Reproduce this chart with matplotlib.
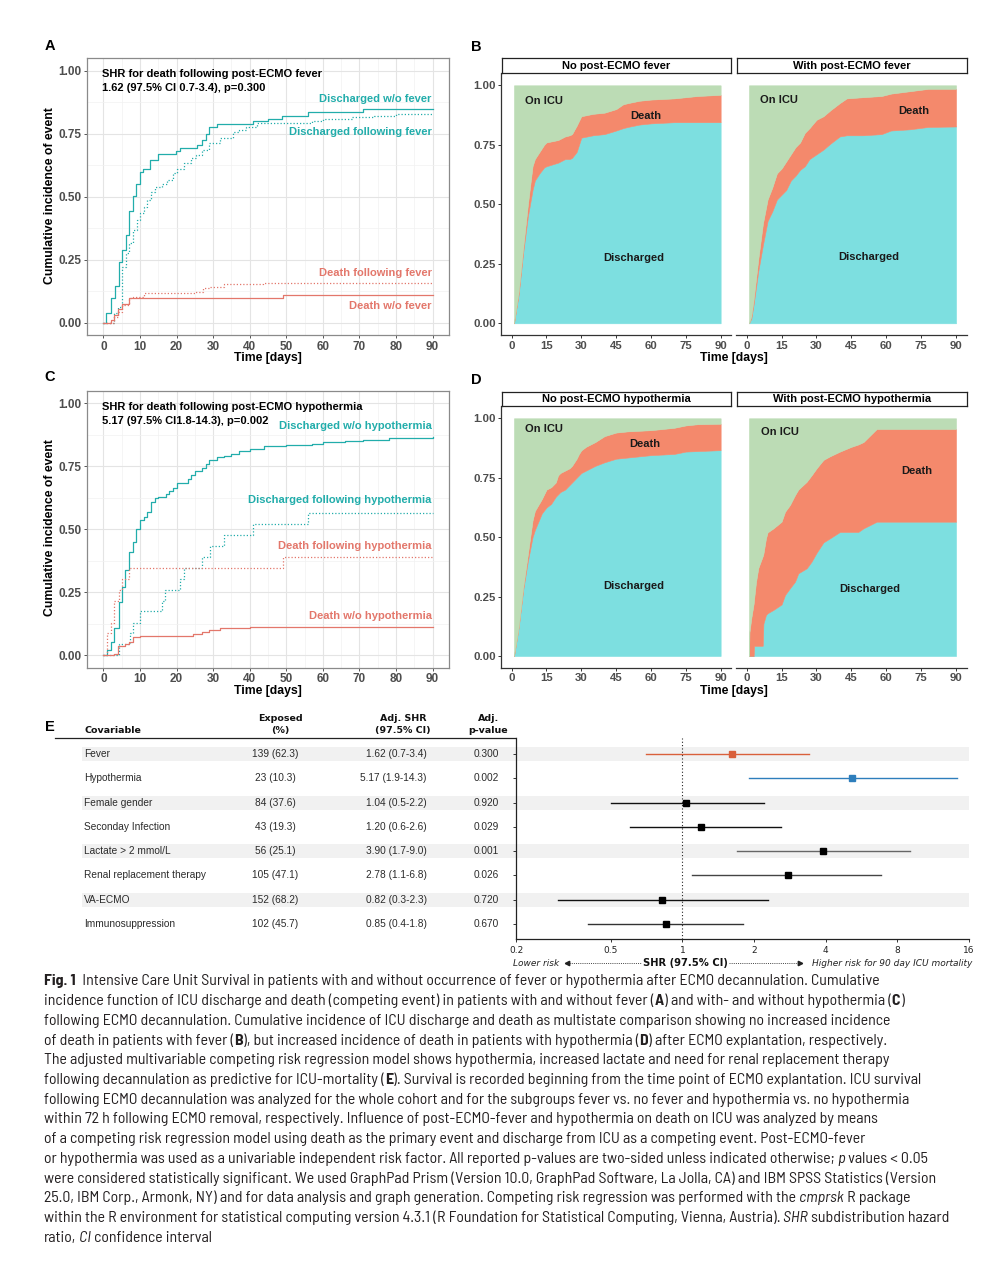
import matplotlib
matplotlib.use("Agg")
import matplotlib.pyplot as plt
from matplotlib import font_manager
from matplotlib.lines import Line2D
from matplotlib.text import Annotation
from matplotlib.patches import Rectangle
from matplotlib.ticker import MultipleLocator, NullLocator

plt.rcParams['font.family'] = ['Liberation Sans', 'DejaVu Sans']

# ---------------- data ----------------
# Panel A: cumulative incidence, fever
a_dis_nofev_t = [0, 0.7, 2, 3.2, 4.2, 5, 6.1, 7, 8, 9, 10, 10.9, 12.8, 15, 19.9, 20.9, 25.5, 27, 28, 29, 31, 41, 45, 48.9, 56, 71, 90]
a_dis_nofev_y = [0, 0.037, 0.097, 0.146, 0.239, 0.288, 0.347, 0.443, 0.504, 0.549, 0.599, 0.61, 0.646, 0.671, 0.681, 0.692, 0.704, 0.725, 0.749, 0.776, 0.787, 0.802, 0.81, 0.821, 0.836, 0.847, 0.847]
a_dis_fev_t = [0, 3, 4.1, 5, 6.2, 7, 8, 9.1, 10, 11, 12, 13, 14, 16, 17.4, 19, 20, 22, 24, 25.3, 27, 29, 32, 35.5, 37, 39, 42, 57, 60, 68, 74, 80, 90]
a_dis_fev_y = [0, 0.037, 0.063, 0.22, 0.278, 0.315, 0.368, 0.407, 0.434, 0.46, 0.487, 0.52, 0.537, 0.55, 0.566, 0.593, 0.608, 0.632, 0.652, 0.665, 0.685, 0.712, 0.731, 0.758, 0.765, 0.778, 0.791, 0.80, 0.81, 0.815, 0.82, 0.827, 0.827]
a_death_fev_t = [0, 2.9, 4.1, 5, 7, 8.2, 11, 25, 27.3, 29, 33, 43.7, 90]
a_death_fev_y = [0, 0.024, 0.044, 0.07, 0.097, 0.103, 0.116, 0.123, 0.136, 0.143, 0.152, 0.159, 0.159]
a_death_nofev_t = [0, 2, 3, 4, 5, 7, 49, 90]
a_death_nofev_y = [0, 0.011, 0.03, 0.053, 0.074, 0.099, 0.11, 0.11]

# Panel C: cumulative incidence, hypothermia
c_dis_nohyp_t = [0, 1, 2, 3, 4.2, 5, 6, 7, 8, 9, 10, 11, 12, 13, 14, 15, 17, 18, 19, 20, 23, 24, 25, 27, 28, 29, 31, 33, 35, 37, 40, 44, 50, 57, 60, 66, 71, 78, 90]
c_dis_nohyp_y = [0, 0.02, 0.053, 0.11, 0.213, 0.27, 0.34, 0.41, 0.45, 0.50, 0.535, 0.55, 0.57, 0.61, 0.625, 0.63, 0.64, 0.65, 0.665, 0.685, 0.70, 0.715, 0.73, 0.745, 0.76, 0.775, 0.785, 0.79, 0.80, 0.81, 0.82, 0.83, 0.835, 0.84, 0.845, 0.85, 0.855, 0.863, 0.866]
c_dis_hyp_t = [0, 4.2, 7.3, 8, 10, 16, 16.8, 21, 22, 27, 29.1, 33, 41, 56, 90]
c_dis_hyp_y = [0, 0.043, 0.087, 0.13, 0.174, 0.217, 0.261, 0.304, 0.348, 0.391, 0.435, 0.478, 0.522, 0.565, 0.565]
c_death_hyp_t = [0, 0.9, 2, 2.9, 4.2, 5, 7.1, 49, 90]
c_death_hyp_y = [0, 0.087, 0.13, 0.217, 0.261, 0.304, 0.348, 0.391, 0.391]
c_death_nohyp_t = [0, 3, 4, 6, 7, 8, 10, 24.6, 27, 29, 32, 40, 90]
c_death_nohyp_y = [0, 0.005, 0.037, 0.044, 0.054, 0.074, 0.078, 0.083, 0.094, 0.10, 0.107, 0.111, 0.111]

# Panel B: multistate (stacked) - no fever / with fever
b_nofev_t = [1, 3, 5, 7, 9, 10, 12, 14, 15, 20, 23, 25, 26, 28, 30, 35, 40, 45, 48, 50, 55, 60, 70, 80, 90]
b_nofev_dis = [0, 0.12, 0.30, 0.45, 0.56, 0.60, 0.63, 0.655, 0.66, 0.675, 0.69, 0.69, 0.695, 0.72, 0.78, 0.79, 0.795, 0.81, 0.82, 0.825, 0.835, 0.84, 0.845, 0.845, 0.845]
b_nofev_death = [0, 0.01, 0.02, 0.05, 0.10, 0.09, 0.09, 0.095, 0.10, 0.095, 0.095, 0.10, 0.10, 0.11, 0.09, 0.09, 0.09, 0.09, 0.10, 0.10, 0.10, 0.10, 0.10, 0.11, 0.115]
b_fev_t = [1, 2, 3, 5, 7, 9, 11, 13, 15, 17, 19, 21, 23, 25, 27, 30, 33, 36, 40, 43, 50, 58, 62, 70, 78, 90]
b_fev_dis = [0, 0.02, 0.08, 0.22, 0.33, 0.43, 0.47, 0.52, 0.54, 0.56, 0.60, 0.62, 0.645, 0.66, 0.69, 0.71, 0.73, 0.755, 0.785, 0.79, 0.79, 0.795, 0.81, 0.815, 0.825, 0.827]
b_fev_death = [0, 0.01, 0.02, 0.05, 0.09, 0.09, 0.10, 0.11, 0.11, 0.12, 0.11, 0.12, 0.115, 0.14, 0.13, 0.145, 0.14, 0.14, 0.14, 0.155, 0.16, 0.16, 0.155, 0.16, 0.16, 0.158]

# Panel D: multistate (stacked) - no hypothermia / with hypothermia
d_nohyp_t = [1, 3, 5, 7, 9, 10, 13, 15, 17, 19, 20, 21, 23, 25, 26, 28, 29, 30, 32, 33, 36, 40, 45, 50, 60, 70, 75, 80, 90]
d_nohyp_dis = [0, 0.12, 0.28, 0.40, 0.50, 0.53, 0.60, 0.625, 0.64, 0.67, 0.68, 0.69, 0.70, 0.72, 0.73, 0.75, 0.76, 0.77, 0.78, 0.785, 0.80, 0.815, 0.83, 0.835, 0.845, 0.85, 0.86, 0.862, 0.866]
d_nohyp_death = [0, 0, 0.01, 0.03, 0.07, 0.08, 0.06, 0.075, 0.07, 0.06, 0.08, 0.08, 0.08, 0.07, 0.07, 0.08, 0.09, 0.095, 0.10, 0.10, 0.10, 0.11, 0.11, 0.11, 0.105, 0.11, 0.11, 0.113, 0.111]
d_hyp_t = [1, 1.2, 2, 3, 3.2, 4, 5, 6.9, 7.2, 8.3, 9, 11.5, 15, 16.5, 18.6, 20.8, 22.2, 25.8, 27.9, 30.1, 33, 35.8, 40.1, 45, 48, 50.2, 55.9, 90]
d_hyp_dis = [0, 0, 0, 0, 0.043, 0.043, 0.043, 0.043, 0.136, 0.173, 0.18, 0.194, 0.217, 0.257, 0.285, 0.313, 0.348, 0.369, 0.397, 0.435, 0.478, 0.495, 0.522, 0.522, 0.522, 0.537, 0.565, 0.565]
d_hyp_death = [0, 0.10, 0.16, 0.22, 0.197, 0.267, 0.327, 0.377, 0.294, 0.322, 0.34, 0.343, 0.348, 0.35, 0.35, 0.364, 0.352, 0.364, 0.363, 0.355, 0.347, 0.345, 0.338, 0.358, 0.368, 0.363, 0.39, 0.39]

# Panel E: competing risk regression
covariables = ["Fever", "Hypothermia", "Female gender", "Seconday Infection", "Lactate > 2 mmol/L",
               "Renal replacement therapy", "VA-ECMO", "Immunosuppression"]
exposed = ["139 (62.3)", "23 (10.3)", "84 (37.6)", "43 (19.3)", "56 (25.1)", "105 (47.1)", "152 (68.2)", "102 (45.7)"]
shr_est = [1.62, 5.17, 1.04, 1.20, 3.90, 2.78, 0.82, 0.85]
shr_lo = [0.7, 1.9, 0.5, 0.6, 1.7, 1.1, 0.3, 0.4]
shr_hi = [3.4, 14.3, 2.2, 2.6, 9.0, 6.8, 2.3, 1.8]
p_values = ["0.300", "0.002", "0.920", "0.029", "0.001", "0.026", "0.720", "0.670"]
forest_ticks = [0.2, 0.5, 1, 2, 4, 8, 16]

caption_lines = [
    [("Fig. 1", "b"), ("  Intensive Care Unit Survival in patients with and without occurrence of fever or hypothermia after ECMO decannulation. Cumulative", "n")],
    [("incidence function of ICU discharge and death (competing event) in patients with and without fever (", "n"), ("A", "b"), (") and with- and without hypothermia (", "n"), ("C", "b"), (")", "n")],
    [("following ECMO decannulation. Cumulative incidence of ICU discharge and death as multistate comparison showing no increased incidence", "n")],
    [("of death in patients with fever (", "n"), ("B", "b"), ("), but increased incidence of death in patients with hypothermia (", "n"), ("D", "b"), (") after ECMO explantation, respectively.", "n")],
    [("The adjusted multivariable competing risk regression model shows hypothermia, increased lactate and need for renal replacement therapy", "n")],
    [("following decannulation as predictive for ICU-mortality (", "n"), ("E", "b"), ("). Survival is recorded beginning from the time point of ECMO explantation. ICU survival", "n")],
    [("following ECMO decannulation was analyzed for the whole cohort and for the subgroups fever vs. no fever and hypothermia vs. no hypothermia", "n")],
    [("within 72 h following ECMO removal, respectively. Influence of post-ECMO-fever and hypothermia on death on ICU was analyzed by means", "n")],
    [("of a competing risk regression model using death as the primary event and discharge from ICU as a competing event. Post-ECMO-fever", "n")],
    [("or hypothermia was used as a univariable independent risk factor. All reported p-values are two-sided unless indicated otherwise;", "n"), (" p", "i"), (" values < 0.05", "n")],
    [("were considered statistically significant. We used GraphPad Prism (Version 10.0, GraphPad Software, La Jolla, CA) and IBM SPSS Statistics (Version", "n")],
    [("25.0, IBM Corp., Armonk, NY) and for data analysis and graph generation. Competing risk regression was performed with the", "n"), (" cmprsk", "i"), (" R package", "n")],
    [("within the R environment for statistical computing version 4.3.1 (R Foundation for Statistical Computing, Vienna, Austria).", "n"), (" SHR", "i"), (" subdistribution hazard", "n")],
    [("ratio,", "n"), (" CI", "i"), (" confidence interval", "n")],
]
# right end (px) of each caption line in the reference
caption_ends = [918, 972, 930, 918, 918, 958, 953, 905, 883, 943, 940, 938, 973, 214]

# ---------------- styles ----------------
TEAL = '#22adab'
SALMON = '#e3776b'
CYAN = '#7ddfe0'
DEATH = '#f4896c'
GREEN = '#bcdcb5'
BAND = '#f1f1f1'
TICK = '#4d4d4d'
DOTS = (0, (1, 1.6))

W, H = 1005, 1270
fig = plt.figure(figsize=(W / 100, H / 100), dpi=100)


def box(l, t, r, b):
    # pixel box (left, top, right, bottom) -> figure fraction rect
    return [l / W, 1 - b / H, (r - l) / W, (b - t) / H]


def ftext(x, y, s, **kw):
    return fig.text(x / W, 1 - y / H, s, **kw)


def bold_ticks(ax, size):
    ax.tick_params(labelsize=size, labelcolor=TICK)
    for lab in ax.get_xticklabels() + ax.get_yticklabels():
        lab.set_fontweight('bold')


def cif_panel(top, bottom, series, labels, annot):
    ax = fig.add_axes(box(87, top, 449, bottom))
    ax.set_xlim(-4.5, 94.5)
    ax.set_ylim(-0.05, 1.05)
    ax.set_xticks(range(0, 91, 10))
    ax.set_yticks([0, 0.25, 0.5, 0.75, 1.0])
    ax.set_yticklabels(['0.00', '0.25', '0.50', '0.75', '1.00'])
    ax.xaxis.set_minor_locator(MultipleLocator(5))
    ax.yaxis.set_minor_locator(MultipleLocator(0.125))
    ax.grid(which='major', color='#e4e4e4', lw=0.8)
    ax.grid(which='minor', color='#f1f1f1', lw=0.5)
    ax.set_axisbelow(True)
    ax.tick_params(which='major', length=2.5, width=0.7, color='#555', pad=1.5)
    ax.tick_params(which='minor', length=0)
    bold_ticks(ax, 8.5)
    for sp in ax.spines.values():
        sp.set_color('#8a8a8a')
        sp.set_linewidth(0.9)
    for t, y, c, ls in series:
        ax.step(t, y, where='post', color=c, ls=ls, lw=0.9)
    for s, yv, c in labels:
        ax.text(89.8, yv, s, ha='right', va='center', color=c, fontsize=8, fontweight='bold')
    ax.text(-0.4, 0.987, annot[0], va='center', fontsize=8, fontweight='bold')
    ax.text(-0.4, 0.930, annot[1], va='center', fontsize=8, fontweight='bold')
    return ax


def stack_panel(l, r, top, bottom, strip_top, t, dis, death, title, left_axis, lab):
    ax = fig.add_axes(box(l, top, r, bottom))
    onicu = [1 - a - b for a, b in zip(dis, death)]
    cols = [CYAN, DEATH, GREEN]
    polys = ax.stackplot(t, dis, death, onicu, colors=cols)
    for p, c in zip(polys, cols):
        p.set_edgecolor(c)
        p.set_linewidth(0.4)
    ax.set_xlim(-4.5, 94.5)
    ax.set_ylim(-0.05, 1.05)
    ax.set_xticks(range(0, 91, 15))
    ax.spines['top'].set_visible(False)
    ax.spines['right'].set_visible(False)
    ax.spines['bottom'].set_color('#333')
    ax.spines['bottom'].set_linewidth(0.9)
    if left_axis:
        ax.set_yticks([0, 0.25, 0.5, 0.75, 1.0])
        ax.set_yticklabels(['0.00', '0.25', '0.50', '0.75', '1.00'])
        ax.spines['left'].set_color('#333')
        ax.spines['left'].set_linewidth(0.9)
    else:
        ax.set_yticks([])
        ax.spines['left'].set_visible(False)
    ax.tick_params(length=2.5, width=0.7, color='#333', pad=1.5)
    bold_ticks(ax, 8.2)
    # labels: (on icu x, y), (death x, y), (discharged x, y)
    ax.text(lab[0][0], lab[0][1], 'On ICU', ha='left', va='center', fontsize=8, fontweight='bold', color='#1a1a1a')
    ax.text(lab[1][0], lab[1][1], 'Death', ha='center', va='center', fontsize=8, fontweight='bold', color='#1a1a1a')
    ax.text(lab[2][0], lab[2][1], 'Discharged', ha='center', va='center', fontsize=8, fontweight='bold', color='#1a1a1a')
    # facet strip
    sax = fig.add_axes(box(l + 0.5, strip_top, r, top))
    sax.set_xticks([])
    sax.set_yticks([])
    for sp in sax.spines.values():
        sp.set_color('#222')
        sp.set_linewidth(0.9)
    sax.text(0.5, 0.5, title, ha='center', va='center', transform=sax.transAxes, fontsize=8, fontweight='bold')
    return ax


# ---------------- panel A ----------------
cif_panel(58.1, 335.3,
          [(a_dis_nofev_t, a_dis_nofev_y, TEAL, '-'),
           (a_dis_fev_t, a_dis_fev_y, TEAL, DOTS),
           (a_death_fev_t, a_death_fev_y, SALMON, DOTS),
           (a_death_nofev_t, a_death_nofev_y, SALMON, '-')],
          [('Discharged w/o fever', 0.888, TEAL),
           ('Discharged following fever', 0.758, TEAL),
           ('Death following fever', 0.196, SALMON),
           ('Death w/o fever', 0.067, SALMON)],
          ('SHR for death following post-ECMO fever', '1.62 (97.5% CI 0.7-3.4), p=0.300'))

# ---------------- panel C ----------------
cif_panel(390.7, 667.9,
          [(c_dis_nohyp_t, c_dis_nohyp_y, TEAL, '-'),
           (c_dis_hyp_t, c_dis_hyp_y, TEAL, DOTS),
           (c_death_hyp_t, c_death_hyp_y, SALMON, DOTS),
           (c_death_nohyp_t, c_death_nohyp_y, SALMON, '-')],
          [('Discharged w/o hypothermia', 0.911, TEAL),
           ('Discharged following hypothermia', 0.616, TEAL),
           ('Death following hypothermia', 0.434, SALMON),
           ('Death w/o hypothermia', 0.157, SALMON)],
          ('SHR for death following post-ECMO hypothermia', '5.17 (97.5% CI1.8-14.3), p=0.002'))

for yc, yt in [(196, 358), (528, 691)]:
    ftext(50, yc, 'Cumulative incidence of event', rotation=90, ha='center', va='center',
          fontsize=8.8, fontweight='bold')
    ftext(268, yt, 'Time [days]', ha='center', va='center', fontsize=8.8, fontweight='bold')

# ---------------- panel B ----------------
stack_panel(501.2, 731.1, 73.4, 335.2, 58, b_nofev_t, b_nofev_dis, b_nofev_death,
            'No post-ECMO fever', True, [(5.7, 0.935), (57.7, 0.873), (52.4, 0.276)])
stack_panel(736.2, 966.5, 73.4, 335.2, 58, b_fev_t, b_fev_dis, b_fev_death,
            'With post-ECMO fever', False, [(5.7, 0.938), (71.9, 0.892), (52.3, 0.28)])

# ---------------- panel D ----------------
stack_panel(501.2, 731.1, 406.4, 667.9, 391.7, d_nohyp_t, d_nohyp_dis, d_nohyp_death,
            'No post-ECMO hypothermia', True, [(5.7, 0.955), (57.5, 0.892), (52.4, 0.295)])
stack_panel(736.2, 966.5, 406.4, 667.9, 391.7, d_hyp_t, d_hyp_dis, d_hyp_death,
            'With post-ECMO hypothermia', False, [(6.2, 0.942), (73.2, 0.777), (52.7, 0.283)])

for yt in [358, 691]:
    ftext(733.5, yt, 'Time [days]', ha='center', va='center', fontsize=8.8, fontweight='bold')

# panel letters
for x, y, s in [(50, 46, 'A'), (476, 47, 'B'), (50, 377, 'C'), (476, 380, 'D'), (50, 727, 'E')]:
    ftext(x, y, s, ha='center', va='center', fontsize=10.5, fontweight='bold')

# ---------------- panel E: table ----------------
ylim_e = (7.63, -0.67)
tax = fig.add_axes(box(40, 737.7, 516, 939.3))
tax.set_xlim(40, 516)
tax.set_ylim(*ylim_e)
tax.axis('off')
hdr = dict(family=['DejaVu Sans'], fontsize=6.8, fontweight='bold', va='center', color='#111', clip_on=False)
tax.text(84.3, -0.95, 'Covariable', ha='left', **hdr)
tax.text(280.7, -1.44, 'Exposed', ha='center', **hdr)
tax.text(280.7, -0.95, '(%)', ha='center', **hdr)
tax.text(403.3, -1.44, 'Adj. SHR', ha='center', **hdr)
tax.text(403.3, -0.95, '(97.5% CI)', ha='center', **hdr)
tax.text(488.3, -1.44, 'Adj.', ha='center', **hdr)
tax.text(488.3, -0.95, 'p-value', ha='center', **hdr)
tax.plot([55, 516], [-0.67, -0.67], color='#222', lw=0.9, clip_on=False)

body = dict(fontsize=7.3, va='center', color='#2b2b2b')
for i, name in enumerate(covariables):
    if i % 2 == 0:
        tax.add_patch(Rectangle((82, i - 0.29), 516 - 82, 0.58, color=BAND, lw=0))
    tax.text(84.3, i, name, ha='left', **body)
    tax.text(275.5, i, exposed[i], ha='center', **body)
    tax.text(426.7, i, f"{shr_est[i]:.2f} ({shr_lo[i]:.1f}-{shr_hi[i]:.1f})", ha='right', **body)
    tax.text(486, i, p_values[i], ha='center', **body)

# ---------------- panel E: forest ----------------
fax = fig.add_axes(box(516, 737.7, 969, 939.3))
fax.set_xscale('log')
fax.set_xlim(0.2, 16)
fax.set_ylim(*ylim_e)
line_cols = ['#d9603b', '#2e7ebc', '#111111', '#111111', '#666666', '#444444', '#111111', '#333333']
mark_cols = ['#d9603b', '#2e7ebc', 'black', 'black', 'black', 'black', 'black', 'black']
for i in range(len(covariables)):
    if i % 2 == 0:
        fax.axhspan(i - 0.29, i + 0.29, color=BAND, lw=0, zorder=0)
    fax.plot([shr_lo[i], shr_hi[i]], [i, i], color=line_cols[i], lw=1.0, zorder=2)
    fax.plot([shr_est[i]], [i], marker='s', ms=4.6, color=mark_cols[i], lw=0, zorder=3)
fax.axvline(1, color='#222', ls=(0, (1, 2)), lw=0.8, zorder=1)
fax.set_xticks(forest_ticks)
fax.set_xticklabels([str(v) for v in forest_ticks], family=['DejaVu Sans'], fontsize=6.5, color='#222')
fax.xaxis.set_minor_locator(NullLocator())
fax.set_yticks(range(len(covariables)))
fax.set_yticklabels([])
fax.tick_params(axis='both', length=2.5, width=0.7, color='#333', pad=2)
fax.spines['top'].set_visible(False)
fax.spines['right'].set_visible(False)
for sp in ['left', 'bottom']:
    fax.spines[sp].set_color('#222')
    fax.spines[sp].set_linewidth(0.9)

ylab = 963
ftext(512.7, ylab, 'Lower risk', family=['DejaVu Sans'], fontsize=6.5, style='italic', ha='left', va='center', color='#222')
ftext(685.5, ylab, 'SHR (97.5% CI)', family=['DejaVu Sans'], fontsize=7.2, fontweight='bold', ha='center', va='center', color='#111')
ftext(972.7, ylab, 'Higher risk for 90 day ICU mortality', family=['DejaVu Sans'], fontsize=6.5, style='italic',
      ha='right', va='center', color='#222')
yf = 1 - ylab / H
fig.add_artist(Line2D([567 / W, 641 / W], [yf, yf], ls=(0, (1, 1.2)), lw=0.7, color='#444'))
fig.add_artist(Line2D([567 / W], [yf], marker='<', ms=3.2, color='#222', lw=0))
fig.add_artist(Line2D([729 / W, 800 / W], [yf, yf], ls=(0, (1, 1.2)), lw=0.7, color='#444'))
fig.add_artist(Line2D([800 / W], [yf], marker='>', ms=3.2, color='#222', lw=0))

# ---------------- caption ----------------
renderer = fig.canvas.get_renderer()
CAP_X = 44
CAP_TARGET = 11.3  # point size that matches the reference glyph height


def text_width(s, size, fam, stretch):
    t = fig.text(0, 0, s, fontsize=size, family=[fam, 'DejaVu Sans'], fontstretch=stretch)
    w = t.get_window_extent(renderer).width
    t.remove()
    return w


def weight_num(f):
    if isinstance(f.weight, int):
        return f.weight
    return font_manager.weight_dict.get(f.weight, 400)


def has_variant(fam, st, bold, italic):
    for f in font_manager.fontManager.ttflist:
        if f.name != fam or f.stretch != st:
            continue
        if (weight_num(f) >= 600) != bold:
            continue
        if (f.style != 'normal') != italic:
            continue
        return True
    return False


# sans faces to try: the reference uses a narrow humanist face, so pick the
# installed one whose fitted size comes closest to the reference glyph size
base_names = {'Liberation Sans', 'Liberation Sans Narrow', 'Noto Sans', 'Open Sans', 'Roboto', 'Lato', 'DejaVu Sans'}
cands = set()
for f in font_manager.fontManager.ttflist:
    if f.style != 'normal' or weight_num(f) != 400:
        continue
    if f.name in base_names or 'Narrow' in f.name or 'Condensed' in f.name:
        if 'Mono' in f.name or 'Serif' in f.name or 'Display' in f.name:
            continue
        if f.stretch in ('ultra-condensed', 'extra-condensed'):
            continue
        if not has_variant(f.name, f.stretch, True, False):
            continue
        cands.add((f.name, f.stretch))
cands.add(('Liberation Sans', 'normal'))

best, best_size, best_err = None, None, None
for fam, st in sorted(cands):
    try:
        ratios = []
        for segs, end in zip(caption_lines[:-1], caption_ends[:-1]):
            w = text_width(''.join(s for s, _ in segs), 10, fam, st)
            ratios.append((end - CAP_X) / w)
    except Exception:
        continue
    size = 10 * min(ratios)
    err = abs(size - CAP_TARGET)
    if best is None or err < best_err:
        best, best_size, best_err = (fam, st), size, err
cap_family, cap_stretch = best
cap_size = min(12.0, best_size)


def caption_line(x, y, segs, size):
    prev = None
    yfr = 1 - y / H
    for s, st in segs:
        kw = dict(fontsize=size, family=[cap_family, 'DejaVu Sans'], fontstretch=cap_stretch, color='#231f20',
                  fontweight='bold' if st == 'b' else 'normal',
                  fontstyle='italic' if st == 'i' else 'normal', va='baseline', ha='left')
        if prev is None:
            prev = fig.text(x / W, yfr, s, **kw)
        else:
            ann = Annotation(s, xy=(1, yfr), xycoords=(prev, 'figure fraction'), **kw)
            fig.add_artist(ann)
            prev = ann


for k, segs in enumerate(caption_lines):
    caption_line(CAP_X, 985.5 + 19.7 * k, segs, cap_size)

fig.savefig('out.png', dpi=100)
